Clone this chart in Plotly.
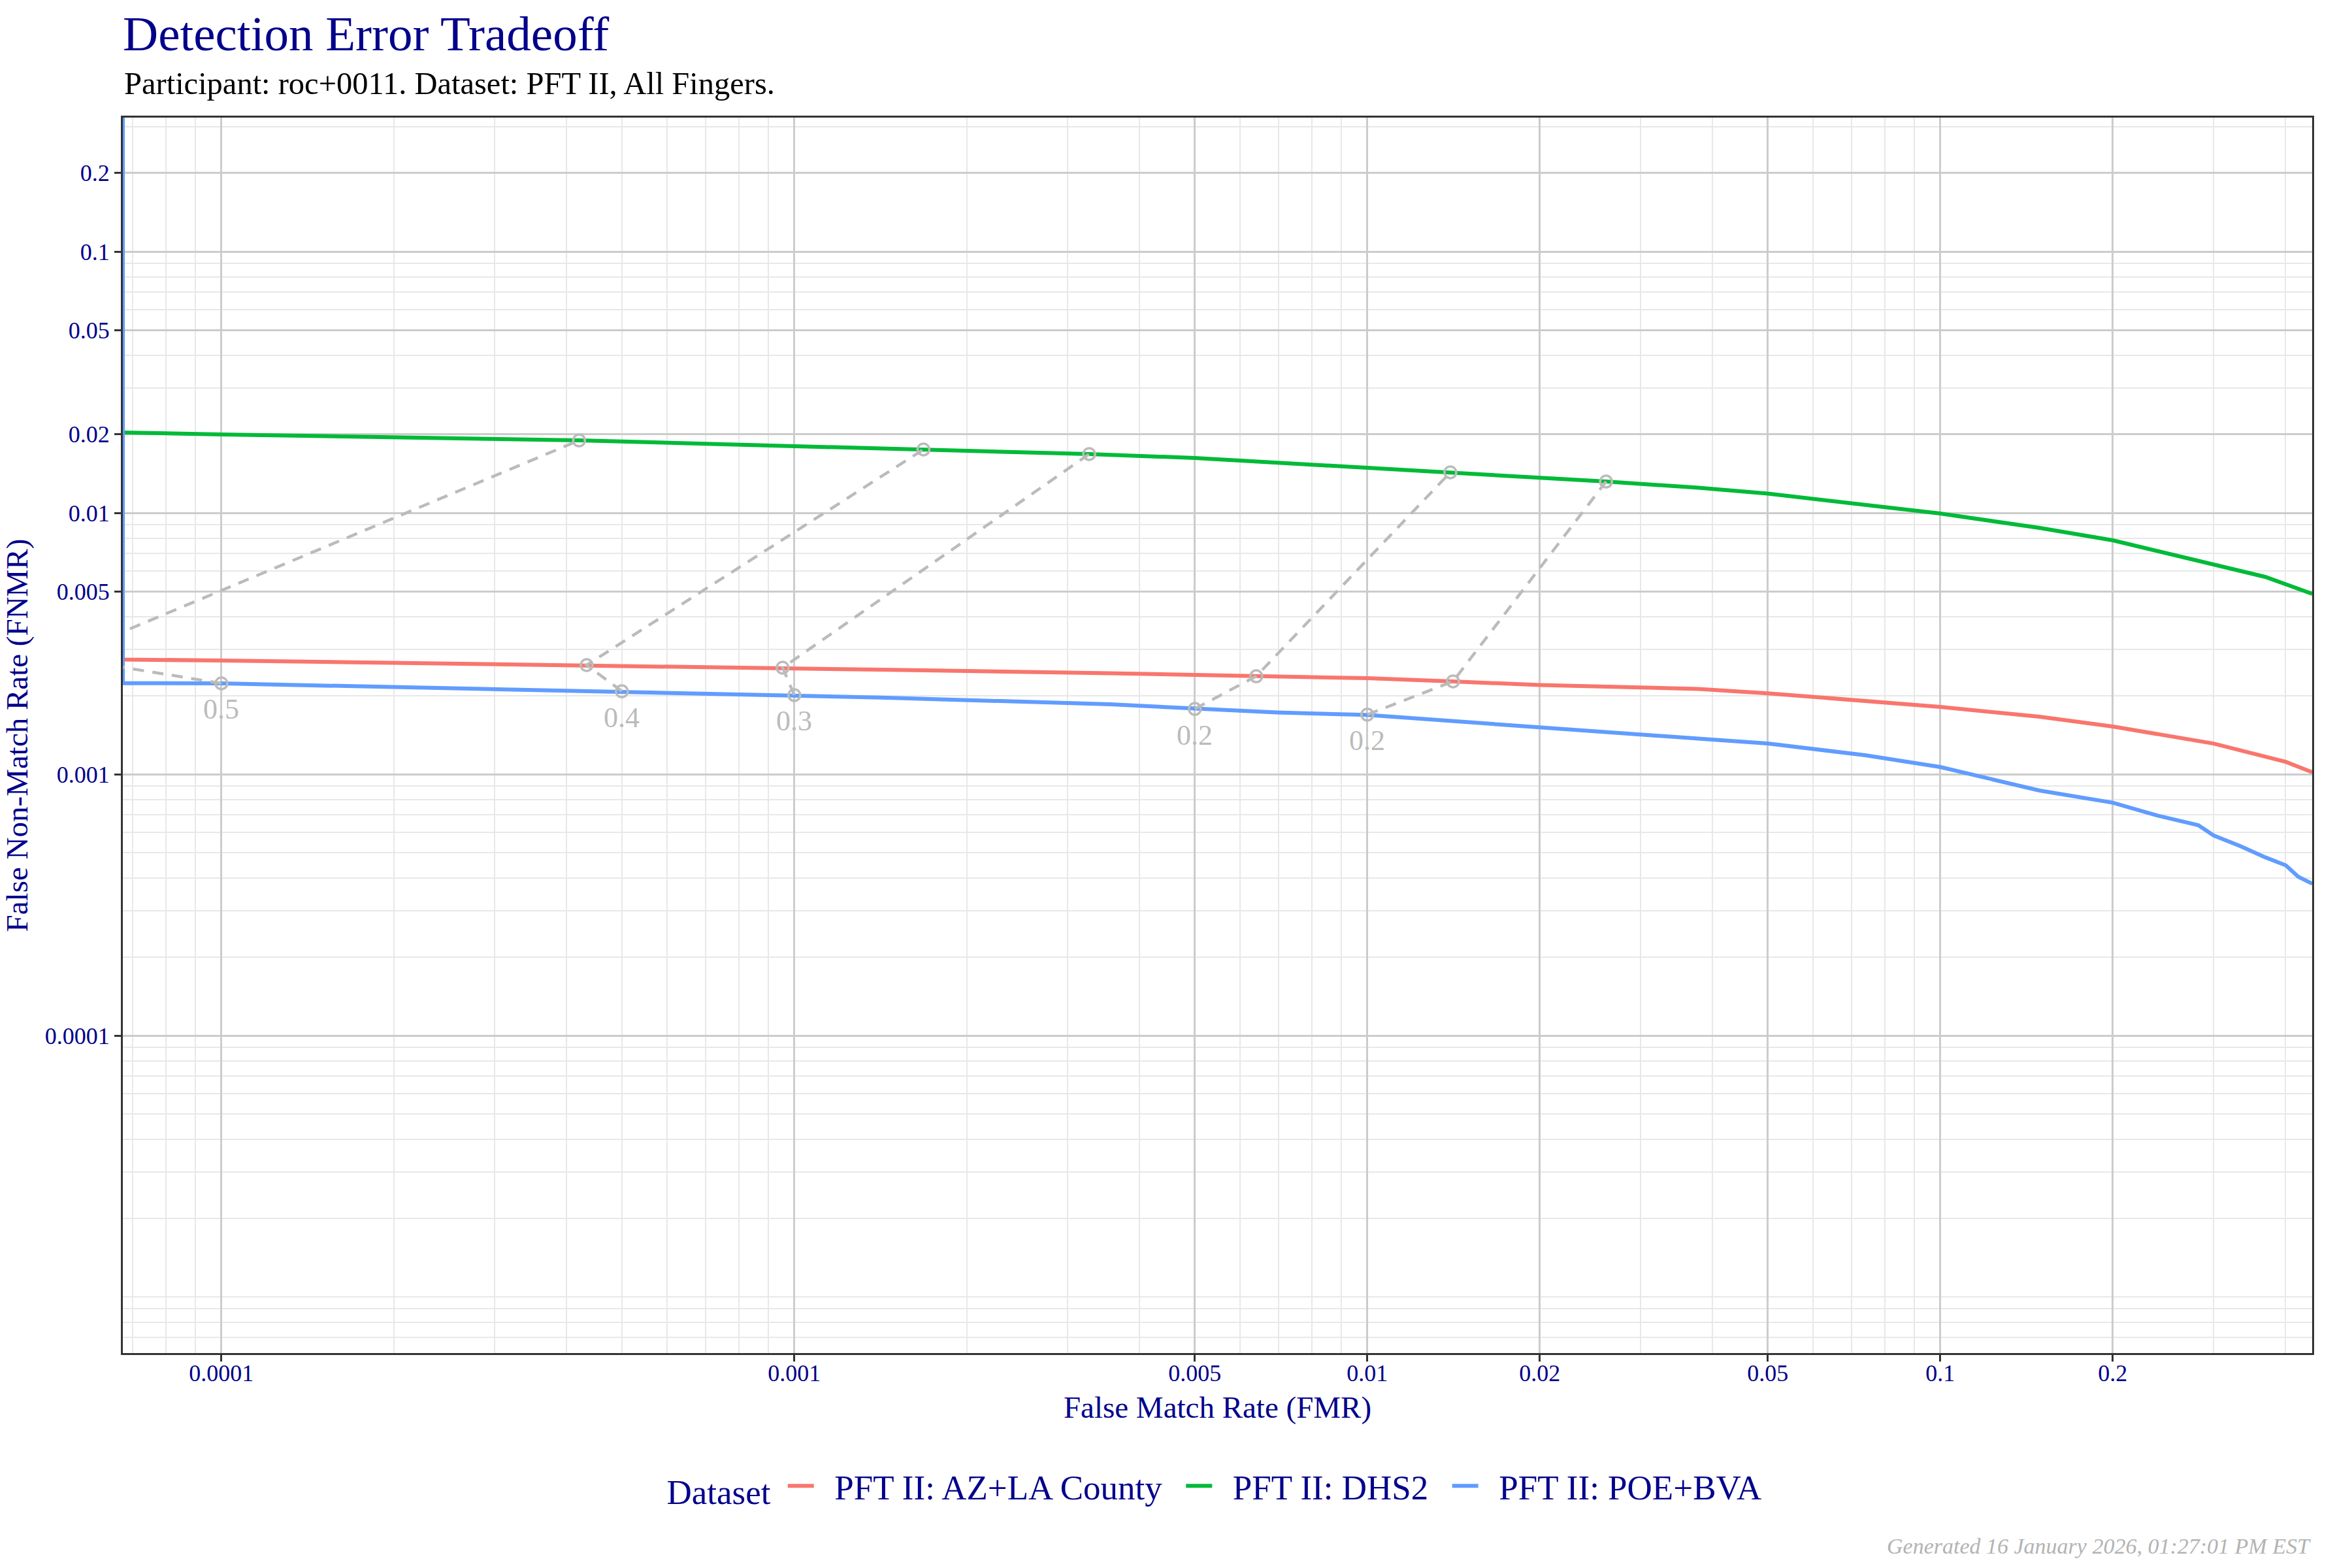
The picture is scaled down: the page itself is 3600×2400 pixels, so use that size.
import math
import plotly.graph_objects as go

# ---------------- data ----------------
series_names = ["PFT II: AZ+LA County", "PFT II: DHS2", "PFT II: POE+BVA"]
series_colors = ["#F8766D", "#00BA38", "#619CFF"]

az_fmr = [5.27e-5, 6.73e-5, 1.0e-4, 4.34e-4, 9.54e-4, 1.42e-3, 3.56e-3, 6.4e-3, 0.01, 0.0141,
          0.02, 0.0378, 0.05, 0.1, 0.149, 0.2, 0.30, 0.401, 0.446]
az_fnmr = [0.0028, 0.002747, 0.002723, 0.002615, 0.002556, 0.002512, 0.002433, 0.002371, 0.00233, 0.002265,
           0.002194, 0.00212, 0.00204, 0.001809, 0.00166, 0.001522, 0.00131, 0.001115, 0.001017]

dhs_fmr = [6.73e-5, 1.0e-4, 4.21e-4, 1.42e-3, 1.68e-3, 3.27e-3, 5.0e-3, 0.01, 0.01396, 0.02,
           0.0261, 0.0378, 0.05, 0.1, 0.149, 0.2, 0.30, 0.369, 0.446]
dhs_fnmr = [0.0203, 0.01995, 0.01894, 0.01768, 0.01748, 0.01679, 0.01622, 0.01488, 0.01429, 0.01373,
            0.01318, 0.01248, 0.01185, 0.00994, 0.00876, 0.00785, 0.00638, 0.00569, 0.0049]

poe_fmr = [6.73e-5, 6.73e-5, 1.0e-4, 2.03e-4, 5.0e-4, 1.0e-3, 1.42e-3, 3.56e-3, 5.0e-3, 6.96e-3,
           0.01, 0.0136, 0.02, 0.0289, 0.0378, 0.05, 0.074, 0.1, 0.122, 0.149,
           0.2, 0.2384, 0.282, 0.30, 0.3338, 0.369, 0.401, 0.4215, 0.446]
poe_fnmr = [1.0, 0.002229, 0.002226, 0.002156, 0.002077, 0.002007, 0.001965, 0.001851, 0.001788, 0.001722,
            0.001685, 0.001603, 0.001514, 0.00142, 0.001368, 0.00131, 0.001182, 0.001065, 0.00096, 0.000866,
            0.000778, 0.000696, 0.000638, 0.000583, 0.000531, 0.000481, 0.000448, 0.000405, 0.000381]

# threshold iso-lines: points on POE+BVA, AZ+LA County, DHS2
thr_labels = ["0.5", "0.4", "0.3", "0.2", "0.2"]
thr_poe_fmr = [1.0e-4, 5.0e-4, 1.0e-3, 5.0e-3, 1.0e-2]
thr_poe_fnmr = [0.002226, 0.002077, 0.002007, 0.001778, 0.00169]
thr_az_fmr = [5.27e-5, 4.34e-4, 9.54e-4, 6.4e-3, 0.01411]
thr_az_fnmr = [0.0028, 0.002615, 0.002556, 0.002371, 0.002265]
thr_dhs_fmr = [4.21e-4, 1.68e-3, 3.27e-3, 0.01396, 0.0261]
thr_dhs_fnmr = [0.01894, 0.01748, 0.01679, 0.01429, 0.01318]

tick_vals = [0.0001, 0.001, 0.005, 0.01, 0.02, 0.05, 0.1, 0.2]
tick_text = ["0.0001", "0.001", "0.005", "0.01", "0.02", "0.05", "0.1", "0.2"]

title_text = "Detection Error Tradeoff"
subtitle_text = "Participant: roc+0011. Dataset: PFT II, All Fingers."
x_title = "False Match Rate (FMR)"
y_title = "False Non-Match Rate (FNMR)"
legend_title = "Dataset"
footnote = "Generated 16 January 2026, 01:27:01 PM EST"

# ---------------- style ----------------
FONT = "Liberation Serif"
NAVY = "#00008B"
GREY = "#BBBBBB"
NB = "\u00a0\u00a0"
minor_vals = [n * 10.0 ** k for k in range(-7, 1) for n in range(1, 10)]

fig = go.Figure()

for name, col, xs, ys in zip(series_names, series_colors,
                             [az_fmr, dhs_fmr, poe_fmr], [az_fnmr, dhs_fnmr, poe_fnmr]):
    fig.add_trace(go.Scatter(x=xs, y=ys, mode="lines", name=NB + name + NB,
                             line=dict(color=col, width=6)))

tx, ty = [], []
for i in range(len(thr_labels)):
    tx += [thr_poe_fmr[i], thr_az_fmr[i], thr_dhs_fmr[i], None]
    ty += [thr_poe_fnmr[i], thr_az_fnmr[i], thr_dhs_fnmr[i], None]
fig.add_trace(go.Scatter(x=tx, y=ty, mode="lines+markers", showlegend=False,
                         line=dict(color=GREY, width=4.5, dash="17px,13px"),
                         marker=dict(symbol="circle-open", size=18, color=GREY,
                                     line=dict(width=3.5, color=GREY)),
                         cliponaxis=True))

for lab, xv, yv in zip(thr_labels, thr_poe_fmr, thr_poe_fnmr):
    fig.add_annotation(x=math.log10(xv), y=math.log10(yv), xref="x", yref="y",
                       text=lab, showarrow=False, yshift=-40,
                       font=dict(family=FONT, size=44, color=GREY))

# subtitle
fig.add_annotation(x=0, y=1.0275, xref="paper", yref="paper", xanchor="left", yanchor="middle",
                   text=subtitle_text, showarrow=False,
                   font=dict(family=FONT, size=48.5, color="black"))

fig.add_annotation(x=1, y=-0.1565, xref="paper", yref="paper", xanchor="right", yanchor="middle",
                   text="<i>" + footnote + "</i>", showarrow=False,
                   font=dict(family=FONT, size=34, color="#B3B3B3"))

axis_common = dict(
    type="log", tickmode="array", tickvals=tick_vals, ticktext=tick_text,
    showgrid=True, gridcolor="#CCCCCC", gridwidth=3,
    minor=dict(tickmode="array", tickvals=minor_vals, showgrid=True,
               gridcolor="#E8E8E8", gridwidth=2, ticks=""),
    showline=True, linecolor="#333333", linewidth=3, mirror=True,
    ticks="outside", ticklen=10, tickwidth=3, tickcolor="#333333",
    tickfont=dict(family=FONT, size=36, color=NAVY),
    zeroline=False,
)

fig.update_xaxes(**axis_common, range=[-4.172, -0.351], ticklabelstandoff=-13,
                 title=dict(text=x_title, font=dict(family=FONT, size=47, color=NAVY), standoff=16))
fig.update_yaxes(**axis_common, range=[-5.215, -0.4875],
                 title=dict(text=y_title, font=dict(family=FONT, size=47, color=NAVY), standoff=20))

fig.update_layout(
    width=3600, height=2400,
    margin=dict(l=188, r=61, t=180, b=329, autoexpand=False),
    paper_bgcolor="white", plot_bgcolor="white",
    font=dict(family=FONT, color=NAVY),
    title=dict(text=title_text, x=0, xref="paper", xanchor="left",
               y=1 - 24 / 2400, yref="container", yanchor="top",
               font=dict(family=FONT, size=75, color=NAVY)),
    legend=dict(orientation="h", x=0.503, xanchor="center", y=-0.1075, yanchor="middle",
                title=dict(text=legend_title + " ", side="left",
                           font=dict(family=FONT, size=53, color=NAVY)),
                font=dict(family=FONT, size=53, color=NAVY),
                itemwidth=40, bgcolor="rgba(0,0,0,0)"),
    showlegend=True,
)

fig.write_html("out.html")
